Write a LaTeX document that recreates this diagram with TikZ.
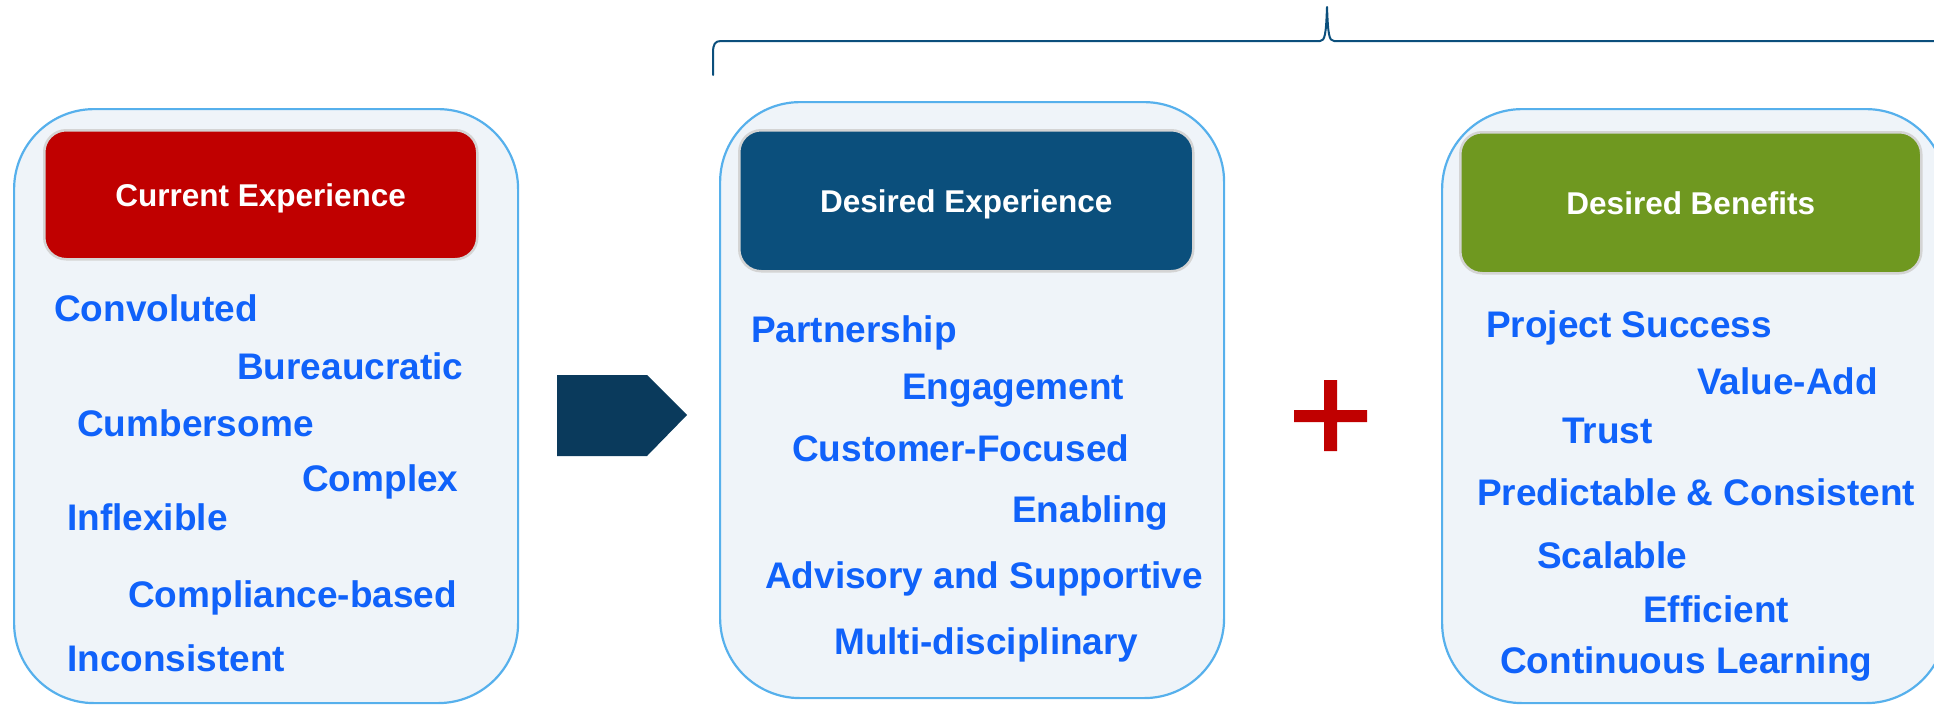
\documentclass[tikz,border=0pt]{standalone}
\usepackage{fontspec}
\setmainfont{Liberation Sans}
\definecolor{panelfill}{RGB}{239,244,249}
\definecolor{panelline}{RGB}{86,176,236}
\definecolor{curred}{RGB}{192,0,0}
\definecolor{desblue}{RGB}{11,79,124}
\definecolor{bengreen}{RGB}{111,152,32}
\definecolor{arrowblue}{RGB}{10,58,92}
\definecolor{wordblue}{RGB}{16,98,250}
\definecolor{headline}{RGB}{212,212,212}
\begin{document}
\begin{tikzpicture}[x=1pt, y=-1pt, line join=round, line cap=round,
		panel/.style={draw=panelline, fill=panelfill, line width=2.2, rounded corners=80, inner sep=0, anchor=north west},
		head/.style={draw=headline, line width=2.5, rounded corners=22, inner sep=0, anchor=north west, text=white, text depth=0pt, font=\fontsize{31.5}{36}\selectfont\bfseries},
		word/.style={anchor=base west, inner sep=0, text=wordblue, font=\fontsize{37}{42}\selectfont\bfseries}]
	\useasboundingbox (0,0) rectangle (1934,704);
	\clip (0,0) rectangle (1934,704);
	\node[panel, minimum width=504, minimum height=594] (curpanel) at (13,108) {};
	\node[panel, minimum width=504, minimum height=596] (despanel) at (719,101) {};
	\node[panel, minimum width=504, minimum height=594] (benpanel) at (1441,108) {};
	\node[head, fill=curred, minimum width=433, minimum height=129] (curhead) at (43,129) {Current Experience};
	\node[head, fill=desblue, minimum width=454, minimum height=141] (deshead) at (738,129) {Desired Experience};
	\node[head, fill=bengreen, minimum width=461, minimum height=141] (benhead) at (1459,131) {Desired Benefits};
	\foreach \x/\y/\t [count=\i] in {54/321/Convoluted, 237/379/Bureaucratic, 77/436/Cumbersome, 302/491/Complex, 67/530/Inflexible, 128/607/Compliance-based, 67/671/Inconsistent}
		\node[word] (cur\i) at (\x,\y) {\t};
	\foreach \x/\y/\t [count=\i] in {751/342/Partnership, 902/399/Engagement, 792/461/Customer-Focused, 1012/522/Enabling, 765/588/Advisory and Supportive, 834/654/Multi-disciplinary}
		\node[word] (des\i) at (\x,\y) {\t};
	\foreach \x/\y/\t [count=\i] in {1486/337/Project Success, 1697/394/Value-Add, 1562/443/Trust, 1477/505/Predictable \& Consistent, 1537/568/Scalable, 1643/622/Efficient, 1500/673/Continuous Learning}
		\node[word] (ben\i) at (\x,\y) {\t};
	\fill[arrowblue] (557,375) -- (647,375) -- (687,415) -- (647,456) -- (557,456) -- cycle;
	\fill[curred] (1294,410) rectangle (1367,422) (1324,380) rectangle (1337,451);
	\draw[desblue, line width=2] (713,75) -- (713,53) .. controls (713,44) and (715,41) .. (721,41) -- (1320,41) .. controls (1325,41) and (1326,34) .. (1327,7) .. controls (1328,34) and (1329,41) .. (1334,41) -- (1940,41);
\end{tikzpicture}
\end{document}
